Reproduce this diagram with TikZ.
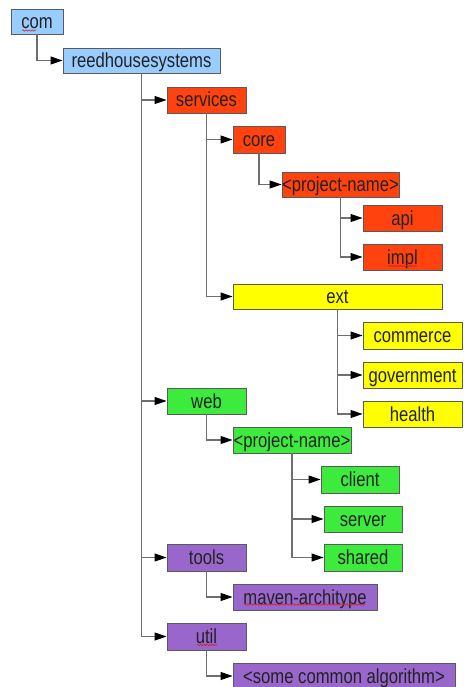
\documentclass[tikz,border=0pt]{standalone}
\usepackage{fontspec}
\setmainfont{Liberation Sans}[FakeStretch=0.82]
\usetikzlibrary{arrows.meta,decorations.pathmorphing}
\definecolor{pkgblue}{HTML}{99CCFF}
\definecolor{pkgred}{HTML}{FF420E}
\definecolor{pkgyellow}{HTML}{FFFF00}
\definecolor{pkggreen}{HTML}{3DEB3D}
\definecolor{pkgpurple}{HTML}{9966CC}
\definecolor{edgegray}{HTML}{5A5A5A}
\definecolor{linkgray}{HTML}{6E6E6E}
\definecolor{labelink}{HTML}{222222}
\definecolor{spellred}{HTML}{D02020}
\tikzset{
  pkg/.style={draw=edgegray, line width=0.9pt, inner sep=0pt, text=labelink,
    font=\fontsize{20.3}{21}\selectfont, text height=14pt, text depth=0pt},
  link/.style={draw=linkgray, line width=1.1pt,
    -{Triangle[length=12pt,width=8pt,fill=black,color=black]}},
  squiggle/.style={draw=spellred, line width=0.5pt,
    decorate, decoration={snake, amplitude=0.8pt, segment length=3pt}},
}
\begin{document}
\begin{tikzpicture}[x=1pt,y=-1pt]
\useasboundingbox (0,0) rectangle (463,687);
\fill[white] (0,0) rectangle (463,687);
% top of the package tree
\node[pkg, fill=pkgblue, minimum width=52pt, minimum height=25pt] (com) at (37,21.5) {com};
\node[pkg, fill=pkgblue, minimum width=157pt, minimum height=25pt] (reed) at (141.5,60.5) {reedhousesystems};
% services branch
\node[pkg, fill=pkgred, minimum width=79pt, minimum height=26pt] (services) at (206.5,100) {services};
\node[pkg, fill=pkgred, minimum width=52pt, minimum height=27pt] (core) at (259,139.5) {core};
\node[pkg, fill=pkgred, minimum width=117pt, minimum height=25pt] (pnr) at (340.5,184.5) {<project-name>};
\node[pkg, fill=pkgred, minimum width=79pt, minimum height=26pt] (api) at (402.5,218) {api};
\node[pkg, fill=pkgred, minimum width=79pt, minimum height=26pt] (impl) at (402.5,257) {impl};
\node[pkg, fill=pkgyellow, minimum width=209pt, minimum height=25pt] (ext) at (337.5,296.5) {ext};
\node[pkg, fill=pkgyellow, minimum width=99pt, minimum height=27pt] (commerce) at (412.5,335.5) {commerce};
\node[pkg, fill=pkgyellow, minimum width=99pt, minimum height=26pt] (government) at (412.5,375) {government};
\node[pkg, fill=pkgyellow, minimum width=99pt, minimum height=26pt] (health) at (412.5,414) {health};
% web branch
\node[pkg, fill=pkggreen, minimum width=79pt, minimum height=26pt] (web) at (206.5,401) {web};
\node[pkg, fill=pkggreen, minimum width=118pt, minimum height=26pt] (png) at (292,440) {<project-name>};
\node[pkg, fill=pkggreen, minimum width=78pt, minimum height=27pt] (client) at (360,479.5) {client};
\node[pkg, fill=pkggreen, minimum width=78pt, minimum height=26pt] (server) at (363,519) {server};
\node[pkg, fill=pkggreen, minimum width=78pt, minimum height=27pt] (shared) at (363,557.5) {shared};
% tools and util branches
\node[pkg, fill=pkgpurple, minimum width=79pt, minimum height=27pt] (tools) at (206.5,557.5) {tools};
\node[pkg, fill=pkgpurple, minimum width=144pt, minimum height=26pt] (maven) at (305,597) {maven-architype};
\node[pkg, fill=pkgpurple, minimum width=79pt, minimum height=27pt] (util) at (206.5,636.5) {util};
\node[pkg, fill=pkgpurple, minimum width=222pt, minimum height=26pt] (algo) at (344,676) {<some common algorithm>};
% tree connectors: down from the parent, then across to the child
\foreach \p/\c in {com/reed, reed/services, reed/web, reed/tools, reed/util,
  services/core, services/ext, core/pnr, pnr/api, pnr/impl,
  ext/commerce, ext/government, ext/health,
  web/png, png/client, png/server, png/shared,
  tools/maven, util/algo}
  \draw[link] (\p.south) |- (\c.west);
% spell-check underlines beneath unknown words
\draw[squiggle] (22,30.5) -- (36,30.5);
\draw[squiggle] (388,266) -- (417,266);
\draw[squiggle] (244,604.5) -- (365,604.5);
\draw[squiggle] (197,645) -- (217,645);
\end{tikzpicture}
\end{document}
